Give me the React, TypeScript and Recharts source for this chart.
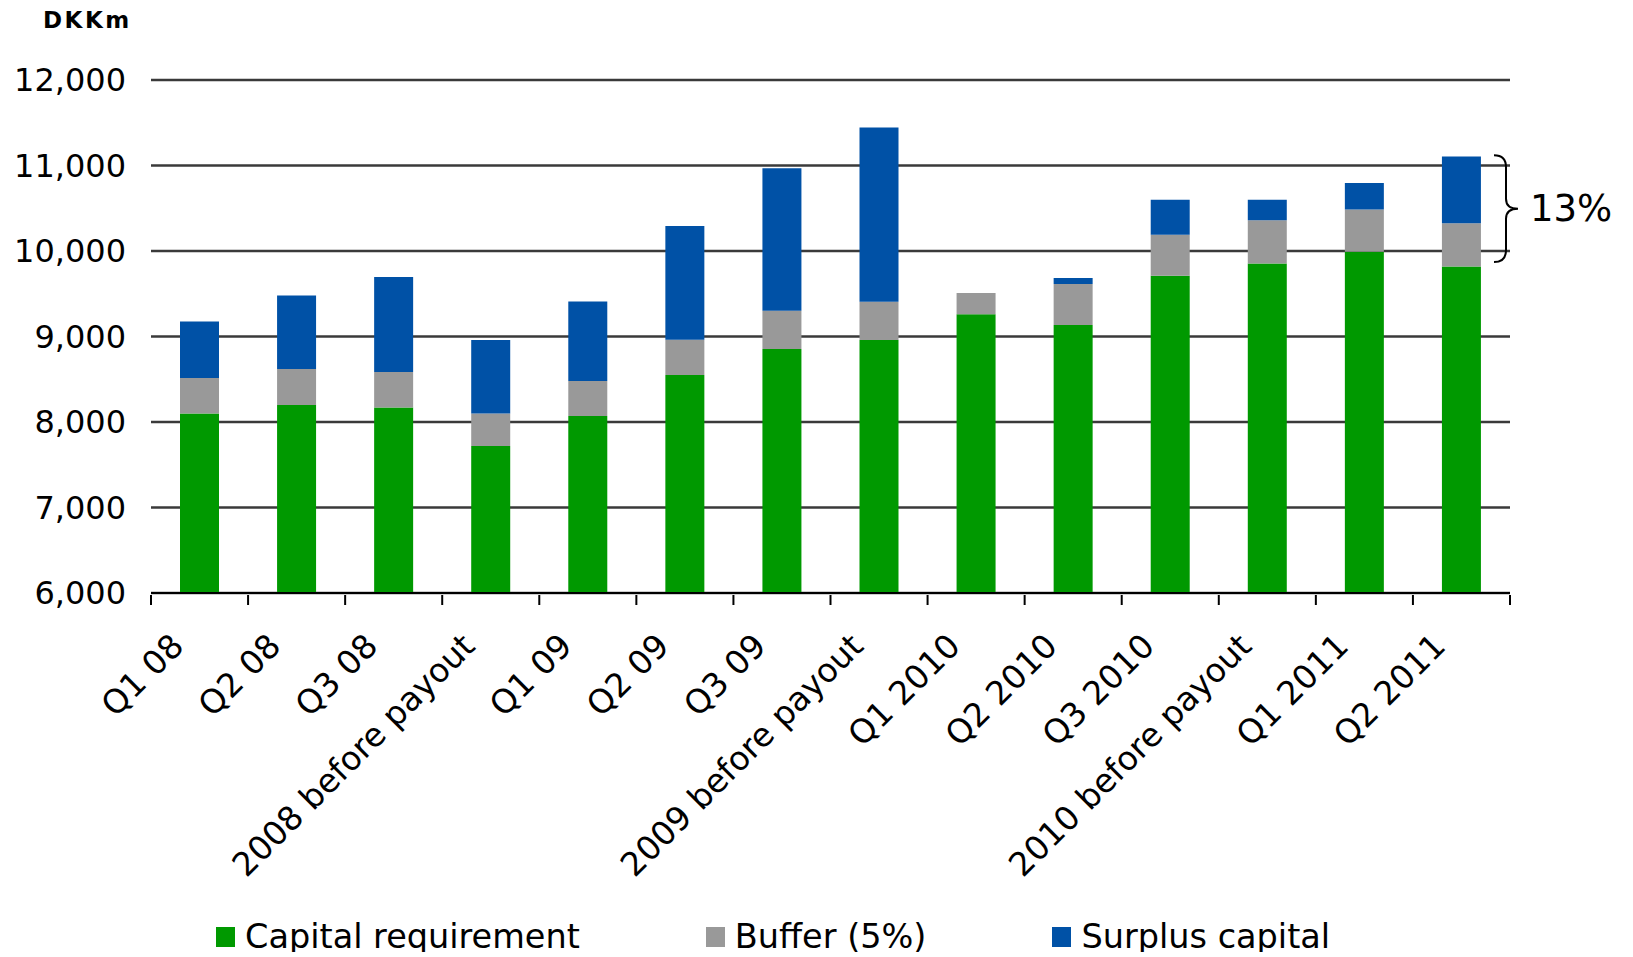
import { BarChart, Bar, XAxis, YAxis, CartesianGrid, Legend, ReferenceArea } from "recharts";

const categories = [
  "Q1 08", "Q2 08", "Q3 08", "2008 before payout", "Q1 09", "Q2 09", "Q3 09",
  "2009 before payout", "Q1 2010", "Q2 2010", "Q3 2010", "2010 before payout", "Q1 2011", "Q2 2011",
];
const capital = [8100, 8200, 8170, 7720, 8070, 8550, 8855, 8960, 9260, 9135, 9710, 9855, 9990, 9820];
const buffer = [415, 420, 415, 380, 410, 412, 447, 445, 250, 480, 480, 505, 495, 505];
const surplus = [660, 860, 1110, 860, 930, 1330, 1665, 2040, 0, 70, 410, 240, 310, 780];
const yTicks = [6000, 7000, 8000, 9000, 10000, 11000, 12000];

const series = [
  { key: "capital", name: "Capital requirement", color: "#009900" },
  { key: "buffer", name: "Buffer (5%)", color: "#999999" },
  { key: "surplus", name: "Surplus capital", color: "#0051A6" },
];

// brace on the right, spanning the last bar
const braceRange = [9870, 11120];
const braceLabel = "13%";

const data = categories.map((name, i) => ({
  name,
  capital: capital[i],
  buffer: buffer[i],
  surplus: surplus[i],
}));

const W = 1617;
const H = 944;
const M = { top: 72, right: 115, left: 0, bottom: 0 };
const Y_W = 143;
const PLOT_W = W - M.right - Y_W;
const FONT = "'DejaVu Sans', Verdana, sans-serif";

const XTick = (props: any) => {
  const { x, y, payload, index } = props;
  const bw = PLOT_W / categories.length;
  return (
    <g>
      <line x1={x - bw / 2} x2={x - bw / 2} y1={y} y2={y + 10} stroke="#000" strokeWidth={2} />
      {index === categories.length - 1 && (
        <line x1={x + bw / 2} x2={x + bw / 2} y1={y} y2={y + 10} stroke="#000" strokeWidth={2} />
      )}
      <text
        transform={`translate(${x - 14},${y + 53}) rotate(-45)`}
        textAnchor="end"
        fontSize={33}
        fill="#000"
      >
        {payload.value}
      </text>
    </g>
  );
};

const Brace = (props: any) => {
  const { x, y, width, height } = props;
  const r = x + width;
  const t = y;
  const b = y + height;
  const m = (t + b) / 2;
  const d = `M ${r - 16} ${t} Q ${r - 4} ${t} ${r - 4} ${t + 12} L ${r - 4} ${m - 10} Q ${r - 4} ${m} ${r + 8} ${m} Q ${r - 4} ${m} ${r - 4} ${m + 10} L ${r - 4} ${b - 12} Q ${r - 4} ${b} ${r - 16} ${b}`;
  return (
    <g>
      <path d={d} fill="none" stroke="#000" strokeWidth={2} />
      <text x={r + 20} y={m} dominantBaseline="central" fontSize={37} fill="#000">
        {braceLabel}
      </text>
    </g>
  );
};

const LegendContent = () => (
  <div style={{ display: "flex", height: 30, alignItems: "center", paddingLeft: 208, gap: 126 }}>
    {series.map((s) => (
      <div key={s.key} style={{ display: "flex", alignItems: "center" }}>
        <div style={{ width: 19, height: 20, background: s.color, marginRight: 10 }} />
        <span style={{ fontSize: 33.5, color: "#000", lineHeight: "30px" }}>{s.name}</span>
      </div>
    ))}
  </div>
);

export default function App() {
  return (
    <div style={{ position: "relative", width: W, height: H, fontFamily: FONT }}>
      <div
        style={{
          position: "absolute",
          left: 35,
          top: 1,
          fontSize: 23,
          lineHeight: "23px",
          fontWeight: "bold",
          letterSpacing: 2.5,
        }}
      >
        DKKm
      </div>
      <BarChart width={W} height={H} data={data} margin={M} barSize={39}>
        <CartesianGrid vertical={false} stroke="#3a3a3a" strokeWidth={2.5} />
        <XAxis
          dataKey="name"
          height={329}
          interval={0}
          tickLine={false}
          tickSize={0}
          tick={<XTick />}
          axisLine={{ stroke: "#000", strokeWidth: 2 }}
        />
        <YAxis
          width={Y_W}
          domain={[6000, 12000]}
          ticks={yTicks}
          allowDataOverflow
          axisLine={false}
          tickLine={false}
          tickSize={0}
          tickMargin={25}
          tick={{ fill: "#000", fontSize: 32 }}
          tickFormatter={(v: number) => v.toLocaleString("en-US")}
        />
        {series.map((s) => (
          <Bar
            key={s.key}
            dataKey={s.key}
            name={s.name}
            stackId="a"
            fill={s.color}
            isAnimationActive={false}
          />
        ))}
        <ReferenceArea y1={braceRange[0]} y2={braceRange[1]} ifOverflow="visible" shape={<Brace />} />
        <Legend verticalAlign="bottom" height={30} content={<LegendContent />} />
      </BarChart>
    </div>
  );
}
